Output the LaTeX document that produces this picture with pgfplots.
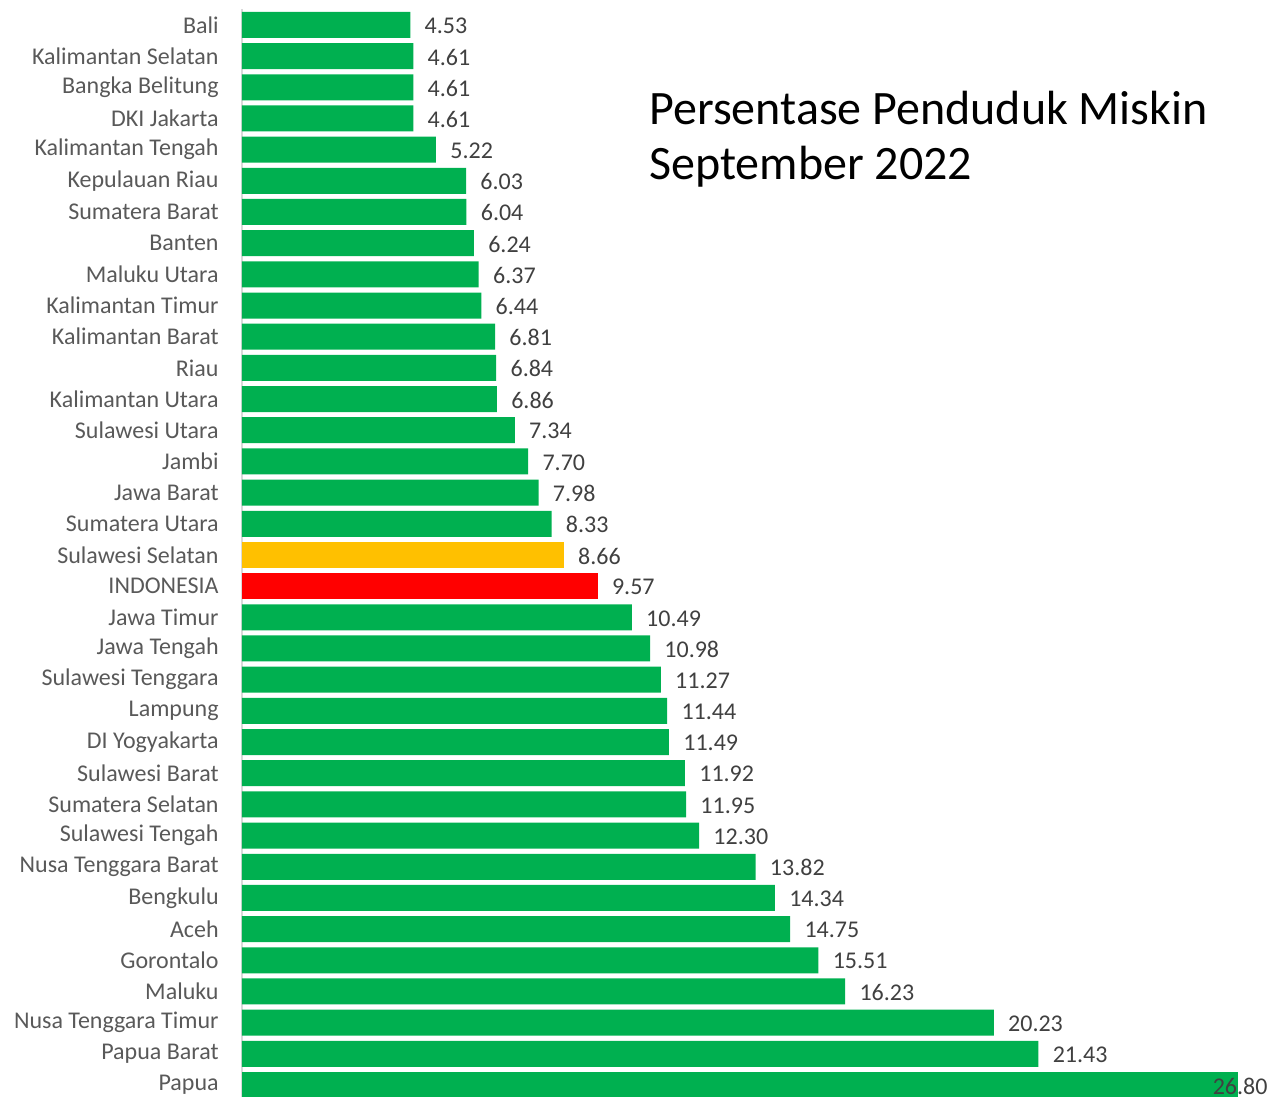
\documentclass[border=0pt]{standalone}
\usepackage{fontspec}
\setmainfont{Carlito}
\usepackage{pgfplots}
\pgfplotsset{compat=1.18}
\definecolor{bargreen}{HTML}{00B050}
\definecolor{baryellow}{HTML}{FFC000}
\definecolor{barred}{HTML}{FF0000}
\definecolor{labelgray}{HTML}{595959}
\definecolor{valgray}{HTML}{404040}
\definecolor{linegray}{HTML}{D9D9D9}

\begin{document}
\begin{tikzpicture}
% page = 1271 x 1097 px at 0.5pt per px; axis box origin at (0,0)
\path[use as bounding box] (-121pt,1.8pt) rectangle (514.5pt,550.3pt);
\begin{axis}[
    scale only axis,
    width=514.5pt, height=545.65pt,
    xbar, bar width=13pt,
    xmin=0, xmax=27.69,
    ymin=-0.5, ymax=34.5,
    y dir=reverse,
    axis x line=none,
    axis y line*=left,
    y axis line style={-, draw=linegray, line width=0.6pt},
    ytick={0,...,34},
    yticklabels={Bali,Kalimantan Selatan,Bangka Belitung,DKI Jakarta,Kalimantan Tengah,
        Kepulauan Riau,Sumatera Barat,Banten,Maluku Utara,Kalimantan Timur,
        Kalimantan Barat,Riau,Kalimantan Utara,Sulawesi Utara,Jambi,Jawa Barat,
        Sumatera Utara,Sulawesi Selatan,INDONESIA,Jawa Timur,Jawa Tengah,
        Sulawesi Tenggara,Lampung,DI Yogyakarta,Sulawesi Barat,Sumatera Selatan,
        Sulawesi Tengah,Nusa Tenggara Barat,Bengkulu,Aceh,Gorontalo,Maluku,
        Nusa Tenggara Timur,Papua Barat,Papua},
    major tick length=0pt,
    yticklabel style={font=\fontsize{12}{14}\selectfont, text=labelgray,
        inner sep=0pt, xshift=-11.5pt},
    /pgf/number format/.cd, fixed, zerofill, precision=2, assume math mode=true,
    /pgfplots/.cd,
    nodes near coords,
    nodes near coords align={anchor=west, xshift=7pt, yshift=-0.5pt},
    every node near coord/.append style={inner sep=0pt,
        font=\fontsize{12}{14}\selectfont, text=valgray},
    clip=false,
]

% provinces (green)
\addplot[bar shift=0pt, fill=bargreen, draw=none] coordinates {
    (4.53,0) (4.61,1) (4.61,2) (4.61,3) (5.22,4) (6.03,5) (6.04,6)
    (6.24,7) (6.37,8) (6.44,9) (6.81,10) (6.84,11) (6.86,12) (7.34,13)
    (7.70,14) (7.98,15) (8.33,16)
    (10.49,19) (10.98,20) (11.27,21) (11.44,22) (11.49,23) (11.92,24)
    (11.95,25) (12.30,26) (13.82,27) (14.34,28) (14.75,29) (15.51,30)
    (16.23,31) (20.23,32) (21.43,33)
};

% Sulawesi Selatan (highlight)
\addplot[bar shift=0pt, fill=baryellow, draw=none] coordinates {(8.66,17)};

% national figure
\addplot[bar shift=0pt, fill=barred, draw=none] coordinates {(9.57,18)};

% Papua: label sits over the bar end
\addplot[bar shift=0pt, fill=bargreen, draw=none,
    nodes near coords align={anchor=east, xshift=15pt, yshift=-0.5pt}] coordinates {(26.80,34)};

\end{axis}

\node[anchor=base west, inner sep=0pt, font=\fontsize{24}{28}\selectfont] at (203.5pt,487.8pt)
    {Persentase Penduduk Miskin};
\node[anchor=base west, inner sep=0pt, font=\fontsize{24}{28}\selectfont] at (203.5pt,460.3pt)
    {September 2022};
\end{tikzpicture}
\end{document}
